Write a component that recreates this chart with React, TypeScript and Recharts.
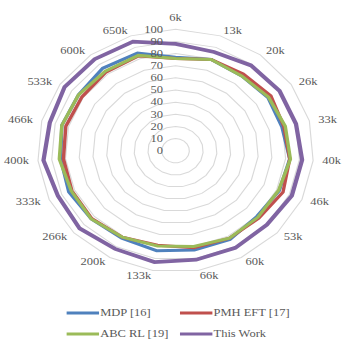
import React from 'react';
import { RadarChart, Radar, PolarGrid, PolarAngleAxis, PolarRadiusAxis, Legend } from 'recharts';

const categories = ['6k', '13k', '20k', '26k', '33k', '40k', '46k', '53k', '60k', '66k', '133k', '200k', '266k', '333k', '400k', '466k', '533k', '600k', '650k'];
const mdp = [77, 79.5, 78, 80, 79.5, 83, 82, 80, 83, 83, 83.5, 82, 83, 84.5, 83.5, 85, 84, 86, 85];
const pmhEft = [76, 79.5, 80, 82.5, 81, 83, 85, 82, 82, 81, 79, 81, 82.5, 82, 81.5, 82, 81, 82, 82.5];
const abcRl = [76, 79.5, 78, 80.5, 82, 83.5, 81.5, 81, 82, 80, 79.5, 81, 83, 82.5, 84.5, 85, 84, 83, 83];
const thisWork = [88, 86, 89, 90, 90, 92, 92, 90, 91, 91, 93, 92, 94.5, 93, 96, 94, 96, 95.5, 95];
const radiusTicks = [0, 10, 20, 30, 40, 50, 60, 70, 80, 90, 100];

const seriesNames = ['MDP [16]', 'PMH EFT [17]', 'ABC RL [19]', 'This Work'];
const seriesColors = ['#4F81BD', '#C0504D', '#9BBB59', '#8064A2'];

const data = categories.map((c, i) => ({
  cat: c,
  mdp: mdp[i],
  pmh: pmhEft[i],
  abc: abcRl[i],
  tw: thisWork[i],
}));

const SX = 1.137;
const W = 306;
const H = 347;
const FONT = '"Liberation Serif", "Times New Roman", serif';
const TXT = '#595959';
const RAD = Math.PI / 180;

const RadiusTick = (props: any) => {
  const { x, y, payload } = props;
  return (
    <text x={x - 11} y={y} textAnchor="end" dominantBaseline="central" fontFamily={FONT} fontSize={11} fill={TXT}>
      {payload.value}
    </text>
  );
};

const AngleTick = (props: any) => {
  const { x, y, payload } = props;
  const ang = Number(payload.coordinate);
  const cosA = Math.cos(ang * RAD);
  const sinA = Math.sin(ang * RAD);
  const anchor = cosA > 1e-5 ? 'start' : cosA < -1e-5 ? 'end' : 'middle';
  const dy = anchor === 'middle' ? (sinA > 0 ? -4 : 3) : 3 * sinA;
  return (
    <text x={x} y={y + dy} textAnchor={anchor} dominantBaseline="central" fontFamily={FONT} fontSize={11} fill={TXT}>
      {payload.value}
    </text>
  );
};

const LegendContent = () => {
  const cols = [58.6, 158.3];
  const rows = [15, 36];
  return (
    <svg width={W} height={45}>
      {seriesNames.map((n, i) => {
        const x = cols[i % 2];
        const y = rows[Math.floor(i / 2)];
        return (
          <g key={n}>
            <line x1={x} x2={x + 28.5} y1={y} y2={y} stroke={seriesColors[i]} strokeWidth={3.2} />
            <text x={x + 29.5} y={y} dominantBaseline="central" fontFamily={FONT} fontSize={11} fill={TXT}>
              {n}
            </text>
          </g>
        );
      })}
    </svg>
  );
};

export default function App() {
  return (
    <div style={{ position: 'absolute', left: 0, top: 0, width: 348, height: 347, overflow: 'hidden', background: '#fff' }}>
      <div style={{ width: W, height: H, transform: `scaleX(${SX})`, transformOrigin: '0 0' }}>
        <RadarChart
          width={W}
          height={H}
          data={data}
          cx={154.4}
          cy={150.7}
          outerRadius={121.4}
          margin={{ top: 0, right: 0, bottom: 0, left: 0 }}
        >
          <PolarGrid gridType="polygon" radialLines={false} stroke="#D9D9D9" strokeWidth={1} />
          <PolarAngleAxis dataKey="cat" tickLine={false} axisLine={false} tick={<AngleTick />} />
          <PolarRadiusAxis
            angle={90}
            domain={[0, 100]}
            ticks={radiusTicks as any}
            tickCount={11}
            axisLine={false}
            tickLine={false}
            tick={<RadiusTick />}
          />
          <Radar name={seriesNames[0]} dataKey="mdp" stroke={seriesColors[0]} strokeWidth={3} fill="none" fillOpacity={0} dot={false} isAnimationActive={false} />
          <Radar name={seriesNames[1]} dataKey="pmh" stroke={seriesColors[1]} strokeWidth={3} fill="none" fillOpacity={0} dot={false} isAnimationActive={false} />
          <Radar name={seriesNames[2]} dataKey="abc" stroke={seriesColors[2]} strokeWidth={3} fill="none" fillOpacity={0} dot={false} isAnimationActive={false} />
          <Radar name={seriesNames[3]} dataKey="tw" stroke={seriesColors[3]} strokeWidth={3.75} fill="none" fillOpacity={0} dot={false} isAnimationActive={false} />
          <Legend
            content={<LegendContent />}
            wrapperStyle={{ position: 'absolute', left: 0, top: 298, bottom: 'auto', width: W, height: 45 }}
          />
        </RadarChart>
      </div>
    </div>
  );
}
